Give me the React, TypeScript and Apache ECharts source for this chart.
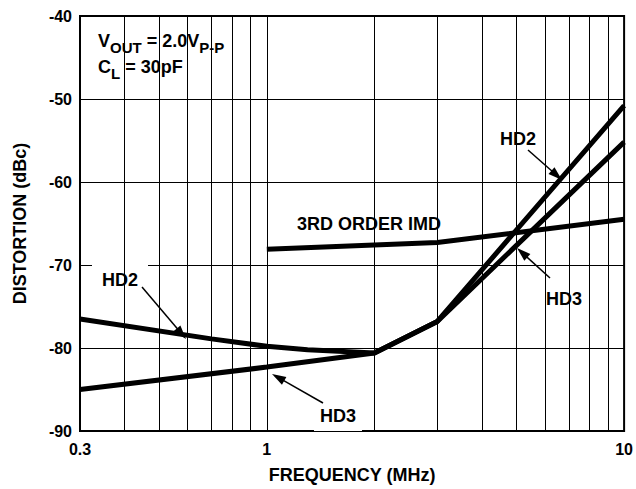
import React, { useEffect, useRef } from "react";
import * as echarts from "echarts";

// ---- data ----
const hd2Freq = [0.3, 0.7, 1, 1.3, 2, 3, 10];
const hd2Db = [-76.5, -78.9, -79.8, -80.2, -80.6, -76.8, -50.8];
const hd3Freq = [0.3, 1, 2, 3, 10];
const hd3Db = [-85.0, -82.3, -80.6, -76.8, -55.2];
const imdFreq = [1, 3, 10];
const imdDb = [-68.1, -67.3, -64.5];
const xTickLabels = [0.3, 1, 10];
const xGridLines = [0.4, 0.5, 0.6, 0.7, 0.8, 0.9, 1, 2, 3, 4, 5, 6, 7, 8, 9];
const yMin = -90;
const yMax = -40;
const yStep = 10;

const FONT = '"Liberation Sans", Arial, Helvetica, sans-serif';

function arrow(x1: number, y1: number, x2: number, y2: number) {
  const dx = x2 - x1;
  const dy = y2 - y1;
  const len = Math.hypot(dx, dy);
  const ux = dx / len;
  const uy = dy / len;
  const L = 14;
  const W = 4.5;
  const bx = x2 - ux * L;
  const by = y2 - uy * L;
  return [
    {
      type: "line",
      z: 100,
      shape: { x1, y1, x2: bx + ux * 2, y2: by + uy * 2 },
      style: { stroke: "#000", lineWidth: 1.5 },
    },
    {
      type: "polygon",
      z: 100,
      shape: {
        points: [
          [x2, y2],
          [bx - uy * W, by + ux * W],
          [bx + uy * W, by - ux * W],
        ],
      },
      style: { fill: "#000" },
    },
  ];
}

function label(text: string, x: number, y: number, padH = 8, padV = 8) {
  return {
    type: "text",
    z: 2,
    x,
    y,
    style: {
      text,
      fill: "#000",
      fontSize: 18,
      fontWeight: "bold",
      fontFamily: FONT,
      align: "center",
      verticalAlign: "middle",
      backgroundColor: "#fff",
      padding: [padV, padH, padV, padH],
    },
  };
}

const pair = (xs: number[], ys: number[]) => xs.map((x, i) => [x, ys[i]]);

export default function App() {
  const ref = useRef<HTMLDivElement>(null);
  useEffect(() => {
    document.body.style.margin = "0";
    if (!ref.current) return;
    const chart = echarts.init(ref.current, undefined, { renderer: "svg" });
    const curveStyle = { color: "#000", width: 5 };
    const tickFont = { fontSize: 16, fontWeight: "bold", fontFamily: FONT, color: "#000" };
    chart.setOption({
      animation: false,
      backgroundColor: "#fff",
      grid: {
        left: 80,
        right: 11,
        top: 16,
        bottom: 53,
        show: true,
        borderColor: "#000",
        borderWidth: 2,
        backgroundColor: "transparent",
      },
      xAxis: {
        type: "log",
        logBase: 10,
        min: 0.3,
        max: 10,
        name: "FREQUENCY (MHz)",
        nameLocation: "middle",
        nameGap: 35,
        nameTextStyle: { fontSize: 18, fontWeight: "bold", fontFamily: FONT, color: "#000" },
        axisLine: { show: false },
        axisTick: { show: false },
        splitLine: { show: false },
        axisLabel: {
          customValues: xTickLabels,
          margin: 10,
          ...tickFont,
          formatter: (v: number) => {
            const t = xTickLabels.find((t) => Math.abs(t - v) < 1e-6 * Math.max(1, t));
            return t === undefined ? "" : String(t);
          },
        },
      },
      yAxis: {
        type: "value",
        min: yMin,
        max: yMax,
        interval: yStep,
        name: "DISTORTION (dBc)",
        nameLocation: "middle",
        nameGap: 51,
        nameTextStyle: { fontSize: 18, fontWeight: "bold", fontFamily: FONT, color: "#000" },
        axisLine: { show: false },
        axisTick: { show: false },
        splitLine: { show: true, lineStyle: { color: "#000", width: 1 } },
        axisLabel: {
          margin: 8,
          ...tickFont,
        },
      },
      series: [
        {
          type: "line",
          z: 1,
          data: [],
          silent: true,
          markLine: {
            silent: true,
            symbol: "none",
            label: { show: false },
            lineStyle: { color: "#000", width: 1, type: "solid" },
            data: xGridLines.map((v) => ({ xAxis: v })),
          },
        },
        {
          name: "HD2",
          type: "line",
          z: 3,
          showSymbol: false,
          lineStyle: curveStyle,
          data: pair(hd2Freq, hd2Db),
        },
        {
          name: "HD3",
          type: "line",
          z: 3,
          showSymbol: false,
          lineStyle: curveStyle,
          data: pair(hd3Freq, hd3Db),
        },
        {
          name: "3RD ORDER IMD",
          type: "line",
          z: 3,
          showSymbol: false,
          lineStyle: curveStyle,
          data: pair(imdFreq, imdDb),
        },
      ],
      graphic: [
        {
          type: "rect",
          z: 2,
          shape: { x: 82, y: 27, width: 162, height: 61 },
          style: { fill: "#fff" },
        },
        {
          type: "text",
          z: 101,
          x: 98,
          y: 41,
          style: {
            text: "{m|V}{s|OUT}{m| = 2.0V}{s|P-P}",
            align: "left",
            verticalAlign: "middle",
            rich: {
              m: { fontSize: 18, fontWeight: "bold", fontFamily: FONT, fill: "#000" },
              s: { fontSize: 15, fontWeight: "bold", fontFamily: FONT, fill: "#000", padding: [12, 0, 0, 0] },
            },
          },
        },
        {
          type: "text",
          z: 101,
          x: 98,
          y: 67,
          style: {
            text: "{m|C}{s|L}{m| = 30pF}",
            align: "left",
            verticalAlign: "middle",
            rich: {
              m: { fontSize: 18, fontWeight: "bold", fontFamily: FONT, fill: "#000" },
              s: { fontSize: 15, fontWeight: "bold", fontFamily: FONT, fill: "#000", padding: [12, 0, 0, 0] },
            },
          },
        },
        label("HD2", 120, 280, 10, 12),
        label("HD3", 338, 416, 6, 6),
        label("3RD ORDER IMD", 369, 224, 6, 11),
        label("HD2", 518, 139, 8, 12),
        label("HD3", 564, 299, 10, 14),
        ...arrow(142, 287, 186, 339),
        ...arrow(323, 403, 272, 374),
        ...arrow(528, 150, 562, 180),
        ...arrow(550, 278, 517, 248),
      ],
    });
    return () => chart.dispose();
  }, []);
  return <div ref={ref} style={{ width: 636, height: 489 }} />;
}
